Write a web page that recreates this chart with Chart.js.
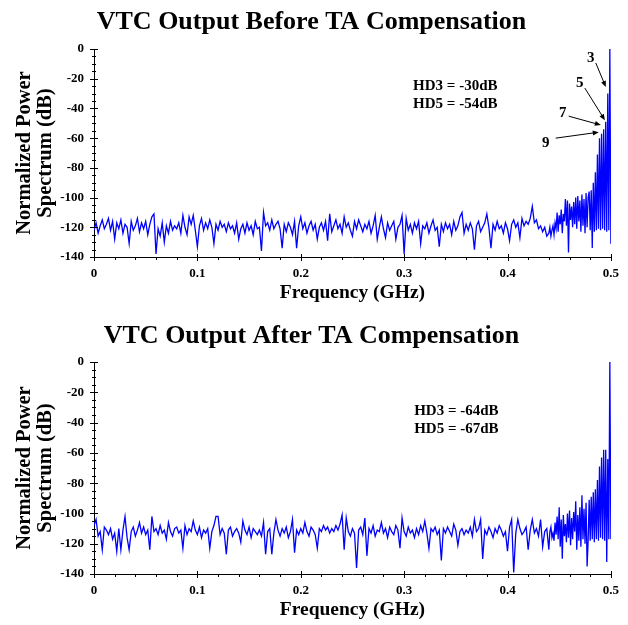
<!DOCTYPE html>
<html>
<head>
<meta charset="utf-8">
<script src="https://cdn.jsdelivr.net/npm/chart.js@4.4.1/dist/chart.umd.min.js"></script>
<style>
  body { margin: 0; background: #fff; }
  .panel { position: relative; width: 628px; }
  #p1 { height: 313px; }
  #p2 { height: 312px; }
</style>
</head>
<body>
<div class="panel" id="p1"><canvas id="before"></canvas></div>
<div class="panel" id="p2"><canvas id="after"></canvas></div>
<script>
// spectrum floor: bins every 0.002 GHz from 0 to 0.438
const floorStep = 0.002;
// tail near fs/2: bins every 0.001 GHz from 0.440 to 0.500
const tailStart = 0.44;
const tailStep = 0.001;

const beforeFloor = [
  -122, -117, -124, -119, -115, -121, -118, -114, -122, -116,
  -128, -117, -121, -115, -124, -118, -120, -131, -116, -122,
  -119, -114, -123, -117, -121, -116, -125, -118, -113, -111,
  -138, -121, -126, -117, -130, -119, -124, -116, -122, -119,
  -121, -117, -124, -112, -120, -125, -113, -118, -112, -122,
  -133, -119, -114, -122, -117, -121, -115, -120, -131, -118,
  -122, -116, -120, -118, -123, -117, -121, -119, -124, -117,
  -128, -121, -118, -124, -117, -122, -119, -125, -116, -121,
  -120, -136, -110, -119, -117, -122, -115, -121, -118, -116,
  -121, -134, -118, -123, -117, -120, -125, -116, -134, -119,
  -113, -121, -117, -124, -119, -116, -122, -118, -128, -120,
  -117, -122, -116, -129, -111, -123, -119, -115, -121, -118,
  -124, -113, -120, -117, -122, -126, -116, -121, -115, -119,
  -123, -118, -121, -116, -124, -119, -112, -128, -120, -113,
  -121, -127, -117, -122, -119, -116, -128, -120, -118, -112,
  -138, -114, -122, -118, -124, -117, -121, -116, -131, -119,
  -121, -117, -124, -119, -115, -122, -120, -133, -118, -123,
  -117, -121, -118, -125, -116, -122, -119, -113, -110, -124,
  -118, -122, -117, -121, -135, -119, -116, -123, -120, -117,
  -111, -120, -134, -118, -122, -116, -121, -119, -124, -117,
  -121, -129, -118, -115, -120, -117, -127, -114, -119, -116,
  -118, -114, -106, -117, -115, -121, -119, -123, -120, -126
];
const beforeTail = [
  -124, -120, -126, -122, -119, -125, -117, -121, -110, -123,
  -112, -118, -108, -124, -111, -116, -101, -119, -102, -137,
  -104, -115, -106, -120, -103, -118, -100, -121, -99, -116,
  -102, -123, -98, -119, -101, -124, -97, -120, -100, -96,
  -122, -95, -134, -90, -123, -83, -122, -71, -121, -60,
  -122, -57, -121, -54, -122, -49, -123, -30, -122, 0,
  -131
];

const afterFloor = [
  -108, -104, -115, -112, -124, -109, -111, -114, -110, -117,
  -113, -125, -110, -124, -111, -102, -116, -124, -112, -109,
  -115, -111, -106, -113, -109, -114, -111, -124, -102, -112,
  -110, -114, -108, -113, -111, -117, -106, -112, -115, -110,
  -109, -113, -111, -123, -108, -114, -110, -112, -105, -111,
  -114, -109, -116, -111, -113, -110, -123, -112, -108, -102,
  -102, -114, -110, -113, -127, -111, -109, -115, -112, -110,
  -113, -119, -105, -111, -114, -109, -116, -110, -112, -114,
  -111, -115, -106, -127, -112, -110, -127, -113, -104, -111,
  -115, -110, -113, -109, -116, -112, -104, -126, -111, -114,
  -110, -113, -106, -112, -115, -109, -111, -114, -123, -110,
  -112, -108, -111, -109, -113, -110, -112, -108, -111, -107,
  -101, -124, -103, -112, -115, -110, -113, -136, -111, -109,
  -114, -103, -128, -110, -113, -108, -115, -111, -112, -106,
  -113, -110, -116, -109, -112, -114, -108, -111, -123, -103,
  -112, -115, -109, -113, -111, -116, -110, -114, -108, -112,
  -105, -113, -123, -110, -112, -109, -114, -111, -131, -110,
  -113, -109, -112, -115, -107, -111, -121, -112, -110, -114,
  -111, -113, -109, -115, -104, -112, -110, -104, -130, -111,
  -114, -109, -112, -116, -110, -113, -108, -111, -115, -112,
  -125, -109, -104, -139, -113, -104, -110, -114, -112, -109,
  -124, -111, -104, -113, -110, -115, -104, -122, -112, -110
];
const afterTail = [
  -124, -112, -109, -116, -113, -118, -106, -114, -102, -117,
  -96, -122, -104, -130, -101, -115, -107, -119, -100, -116,
  -98, -121, -103, -117, -99, -112, -92, -124, -101, -118,
  -96, -122, -88, -117, -97, -120, -93, -135, -118, -91,
  -118, -89, -117, -86, -119, -84, -117, -78, -118, -69,
  -116, -63, -117, -58, -118, -58, -132, -64, -117, 0,
  -117
];

// text notes and harmonic call-outs, in data units (GHz, dB)
const beforeNotes = [
  { x: 0.3087, y: -24.9, text: 'HD3 = -30dB', align: 'left' },
  { x: 0.3087, y: -37.1, text: 'HD5 = -54dB', align: 'left' },
  { x: 0.4806, y: -6.1, text: '3', align: 'center' },
  { x: 0.4699, y: -22.9, text: '5', align: 'center' },
  { x: 0.4534, y: -43.2, text: '7', align: 'center' },
  { x: 0.4369, y: -63.4, text: '9', align: 'center' }
];
const beforeArrows = [
  [0.4854, -9.4, 0.4951, -25.6],
  [0.4748, -26.3, 0.4942, -47.9],
  [0.4592, -45.2, 0.4903, -51.2],
  [0.4466, -60.0, 0.4883, -56.0]
];
const afterNotes = [
  { x: 0.3097, y: -32.4, text: 'HD3 = -64dB', align: 'left' },
  { x: 0.3097, y: -44.3, text: 'HD5 = -67dB', align: 'left' }
];

const SERIF = "'Liberation Serif', 'Times New Roman', serif";

function toPoints(floor, tail) {
  const pts = floor.map((v, i) => ({ x: i * floorStep, y: v }));
  tail.forEach((v, i) => pts.push({ x: tailStart + i * tailStep, y: v }));
  return pts;
}

// tick marks crossing the axes, majors longer than minors
const axisTicks = {
  id: 'axisTicks',
  afterDraw(chart) {
    const { ctx, scales: { x, y } } = chart;
    ctx.save();
    ctx.strokeStyle = '#000';
    ctx.lineWidth = 1;
    ctx.beginPath();
    for (let v = -140; v <= 0; v += 5) {
      const py = Math.round(y.getPixelForValue(v)) + 0.5;
      const major = v % 20 === 0;
      ctx.moveTo(x.left - (major ? 4 : 2), py);
      ctx.lineTo(x.left + (major ? 4 : 2), py);
    }
    for (let i = 0; i <= 25; i++) {
      const px = Math.round(x.getPixelForValue(i * 0.02)) + 0.5;
      const major = i % 5 === 0;
      ctx.moveTo(px, y.bottom - (major ? 3 : 0));
      ctx.lineTo(px, y.bottom + (major ? 4 : 3));
    }
    ctx.stroke();
    ctx.restore();
  }
};

const callouts = {
  id: 'callouts',
  afterDraw(chart, args, opts) {
    const { ctx, scales: { x, y } } = chart;
    ctx.save();
    ctx.fillStyle = '#000';
    ctx.strokeStyle = '#000';
    ctx.font = 'bold 15px ' + SERIF;
    ctx.textBaseline = 'middle';
    (opts.notes || []).forEach(n => {
      ctx.textAlign = n.align;
      ctx.fillText(n.text, x.getPixelForValue(n.x), y.getPixelForValue(n.y));
    });
    ctx.lineWidth = 1;
    (opts.arrows || []).forEach(a => {
      const x1 = x.getPixelForValue(a[0]), y1 = y.getPixelForValue(a[1]);
      const x2 = x.getPixelForValue(a[2]), y2 = y.getPixelForValue(a[3]);
      const ang = Math.atan2(y2 - y1, x2 - x1);
      ctx.beginPath();
      ctx.moveTo(x1, y1);
      ctx.lineTo(x2 - 4 * Math.cos(ang), y2 - 4 * Math.sin(ang));
      ctx.stroke();
      ctx.beginPath();
      ctx.moveTo(x2, y2);
      ctx.lineTo(x2 - 6 * Math.cos(ang) + 2.5 * Math.sin(ang), y2 - 6 * Math.sin(ang) - 2.5 * Math.cos(ang));
      ctx.lineTo(x2 - 6 * Math.cos(ang) - 2.5 * Math.sin(ang), y2 - 6 * Math.sin(ang) + 2.5 * Math.cos(ang));
      ctx.closePath();
      ctx.fill();
    });
    ctx.restore();
  }
};

function buildChart(id, title, floor, tail, notes, arrows, xAxisH, xTitlePad, titlePadTop) {
  return new Chart(document.getElementById(id), {
    type: 'line',
    data: {
      datasets: [{
        data: toPoints(floor, tail),
        borderColor: '#0000ff',
        borderWidth: 1.3,
        pointRadius: 0,
        tension: 0
      }]
    },
    plugins: [axisTicks, callouts],
    options: {
      responsive: true,
      maintainAspectRatio: false,
      animation: false,
      layout: { padding: { left: 7, right: 12, top: 0, bottom: 0 } },
      plugins: {
        legend: { display: false },
        tooltip: { enabled: false },
        title: {
          display: true,
          text: title,
          color: '#000',
          font: { family: SERIF, size: 26, weight: 'bold', lineHeight: 1.2 },
          padding: { top: titlePadTop, bottom: 49 - titlePadTop - 31.2 }
        },
        callouts: { notes: notes, arrows: arrows }
      },
      scales: {
        x: {
          type: 'linear',
          min: 0,
          max: 0.5,
          grid: { display: false, drawTicks: false },
          border: { color: '#000', width: 1 },
          ticks: {
            stepSize: 0.1,
            padding: 9,
            color: '#000',
            maxRotation: 0,
            font: { family: SERIF, size: 13, weight: 'bold' },
            callback: v => v === 0 ? '0' : v.toFixed(1)
          },
          title: {
            display: true,
            text: 'Frequency (GHz)',
            color: '#000',
            font: { family: SERIF, size: 19.5, weight: 'bold', lineHeight: 1.2 },
            padding: { top: 0, bottom: xTitlePad }
          },
          afterFit: s => { s.height = xAxisH; }
        },
        y: {
          min: -140,
          max: 0,
          grid: { display: false, drawTicks: false },
          border: { color: '#000', width: 1 },
          ticks: {
            stepSize: 20,
            padding: 10,
            color: '#000',
            font: { family: SERIF, size: 13, weight: 'bold' }
          },
          title: {
            display: true,
            text: ['Normalized Power', 'Spectrum (dB)'],
            color: '#000',
            font: { family: SERIF, size: 20.5, weight: 'bold', lineHeight: 1.0 },
            padding: { top: 7.5, bottom: 0 }
          },
          afterFit: s => { s.width = 87; }
        }
      }
    }
  });
}

buildChart('before', 'VTC Output Before TA Compensation', beforeFloor, beforeTail, beforeNotes, beforeArrows, 56, 8.6, 7);
buildChart('after', 'VTC Output After TA Compensation', afterFloor, afterTail, afterNotes, [], 51, 3.6, 8);
</script>
</body>
</html>
